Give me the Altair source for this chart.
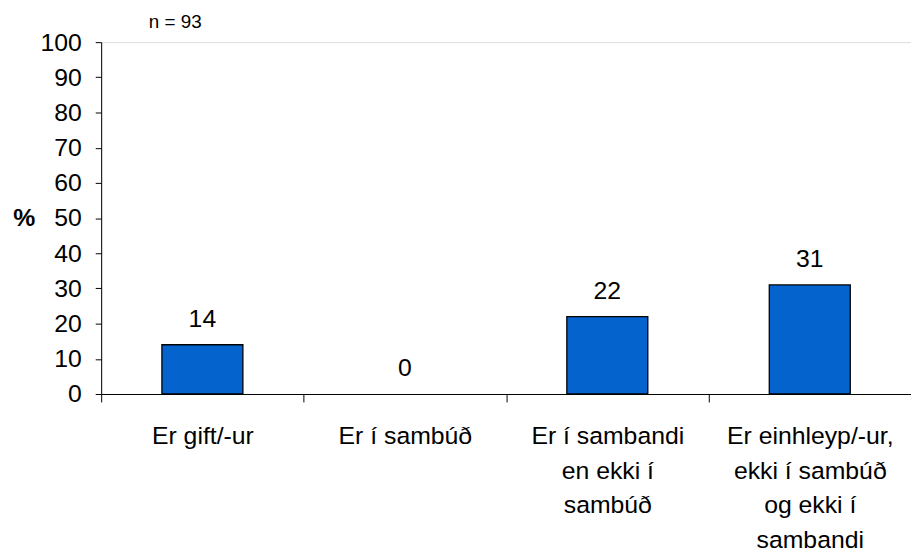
import altair as alt
import pandas as pd

categories = [
    "Er gift/-ur",
    "Er í sambúð",
    "Er í sambandi|en ekki í|sambúð",
    "Er einhleyp/-ur,|ekki í sambúð|og ekki í|sambandi",
]
values = [14, 0, 22, 31]
value_labels = ["14", "0", "22", "31"]
y_ticks = [0, 10, 20, 30, 40, 50, 60, 70, 80, 90, 100]
n_label = "n = 93"
y_title = "%"

FONT = "Liberation Sans"
BAR_COLOR = "#0563CD"

df = pd.DataFrame({"cat": categories, "val": values, "lab": value_labels})

x_enc = alt.X(
    "cat:N",
    sort=categories,
    title=None,
    scale=alt.Scale(paddingInner=0, paddingOuter=0),
    axis=alt.Axis(
        tickBand="extent",
        labelAngle=0,
        labelFont=FONT,
        labelFontSize=25,
        labelColor="black",
        labelPadding=22,
        labelLineHeight=35,
        labelBaseline="top",
        labelAlign="center",
        labelLimit=400,
        labelOverlap=False,
        labelExpr="split(datum.label, '|')",
        tickSize=8,
        tickColor="black",
        domainColor="black",
    ),
)

y_enc = alt.Y(
    "val:Q",
    scale=alt.Scale(domain=[0, 100], nice=False),
    axis=alt.Axis(
        values=y_ticks,
        grid=False,
        tickSize=6,
        tickColor="black",
        domainColor="black",
        labelFont=FONT,
        labelFontSize=25,
        labelColor="black",
        labelPadding=14,
        title=y_title,
        titleAngle=0,
        titleX=-78,
        titleY=177.5,
        titleAlign="center",
        titleBaseline="middle",
        titleFont=FONT,
        titleFontSize=25,
        titleFontWeight="bold",
        titleColor="black",
    ),
)

bars = alt.Chart(df).mark_bar(
    width=alt.RelativeBandSize(0.4),
    color=BAR_COLOR,
    stroke="black",
    strokeWidth=1.3,
).encode(
    x=x_enc,
    y=y_enc,
    strokeOpacity=alt.condition(alt.datum.val > 0, alt.value(1), alt.value(0)),
)

labels = alt.Chart(df).mark_text(
    dy=-18,
    baseline="alphabetic",
    align="center",
    font=FONT,
    fontSize=25,
    color="black",
).encode(x=x_enc, y=y_enc, text="lab:N")

chart = (
    alt.layer(bars, labels)
    .properties(
        width=817,
        height=355,
        title=alt.Title(
            n_label,
            anchor="start",
            frame="group",
            dx=48,
            offset=-21,
            baseline="bottom",
            font=FONT,
            fontSize=19,
            fontWeight="normal",
            color="black",
        ),
        autosize=alt.AutoSizeParams(type="none"),
        padding={"left": 94, "top": 32, "right": 0, "bottom": 162},
    )
    .configure_view(strokeWidth=0)
    .configure(background="white")
)

chart.save("out.html", embed_options={"renderer": "svg", "actions": False})
